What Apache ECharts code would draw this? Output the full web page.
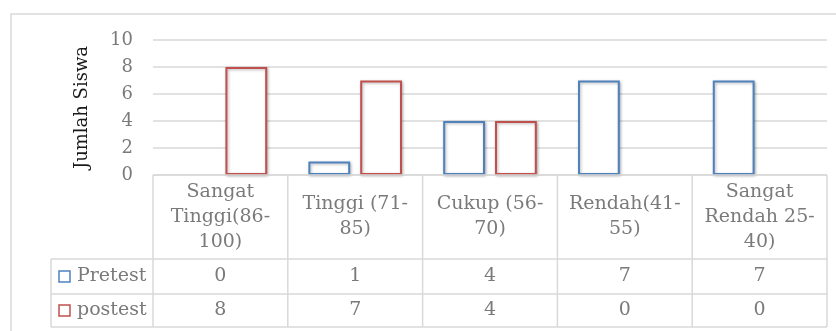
<!DOCTYPE html>
<html>
<head>
<meta charset="utf-8">
<script src="https://cdn.jsdelivr.net/npm/echarts/dist/echarts.min.js"></script>
<style>
  html, body { margin: 0; padding: 0; background: #ffffff; }
  #chart { width: 836px; height: 331px; }
</style>
</head>
<body>
<div id="chart"></div>
<script>
// Score bands (category labels, wrapped the way they appear in the table header)
const categories = ['Sangat\nTinggi(86-\n100)', 'Tinggi (71-\n85)', 'Cukup (56-\n70)', 'Rendah(41-\n55)', 'Sangat\nRendah 25-\n40)'];
// Number of students per band
const pretest = [0, 1, 4, 7, 7];
const postest = [8, 7, 4, 0, 0];
const seriesNames = ['Pretest', 'postest'];
const yAxisTitle = 'Jumlah Siswa';

const BLUE = '#4F81BD';
const RED = '#C0504D';
const GRID_COLOR = '#d9d9d9';
const TEXT_COLOR = '#7a7a7a';
const SERIF = '"DejaVu Serif", serif';

// Data table layout below the plot
const HEADER_H = 84;
const ROW1_H = 35;
const ROW2_H = 33;
const LEGEND_LEFT = 51;

const chart = echarts.init(document.getElementById('chart'), null, { renderer: 'canvas' });

function barData(values) {
  return values.map(v => v === 0
    ? { value: v, itemStyle: { borderWidth: 0, shadowBlur: 0, shadowColor: 'transparent' } }
    : v);
}

function barSeries(name, values, color) {
  return {
    name: name,
    type: 'bar',
    data: barData(values),
    barWidth: '31%',
    barGap: '24%',
    itemStyle: {
      color: '#ffffff',
      borderColor: color,
      borderWidth: 2,
      shadowColor: 'rgba(0,0,0,0.3)',
      shadowBlur: 3,
      shadowOffsetX: 1,
      shadowOffsetY: 1
    },
    emphasis: { disabled: true }
  };
}

chart.setOption({
  animation: false,
  backgroundColor: '#ffffff',
  grid: { left: 153, right: 9, top: 40, bottom: 156 },
  xAxis: {
    type: 'category',
    data: categories,
    axisLine: { show: false },
    axisTick: { show: false },
    axisLabel: { show: false }
  },
  yAxis: {
    type: 'value',
    min: 0,
    max: 10,
    interval: 2,
    name: yAxisTitle,
    nameLocation: 'middle',
    nameRotate: 90,
    nameGap: 62,
    nameTextStyle: { color: '#1a1a1a', fontFamily: SERIF, fontSize: 18 },
    axisLine: { show: false },
    axisTick: { show: false },
    axisLabel: { color: TEXT_COLOR, fontFamily: SERIF, fontSize: 18, margin: 20 },
    splitLine: { lineStyle: { color: GRID_COLOR, width: 1.5 } }
  },
  series: [
    barSeries(seriesNames[0], pretest, BLUE),
    barSeries(seriesNames[1], postest, RED)
  ]
});

// Build the data table from the axis geometry
function buildTable() {
  const c0 = chart.convertToPixel({ xAxisIndex: 0 }, 0);
  const c1 = chart.convertToPixel({ xAxisIndex: 0 }, 1);
  const band = c1 - c0;
  const left = c0 - band / 2;
  const right = left + band * categories.length;
  const top = chart.convertToPixel({ yAxisIndex: 0 }, 0);
  const yRow1 = top + HEADER_H;
  const yRow2 = yRow1 + ROW1_H;
  const yEnd = yRow2 + ROW2_H;

  const lineStyle = { stroke: GRID_COLOR, lineWidth: 1.5 };
  const els = [];
  const hline = (x1, x2, y) => els.push({ type: 'line', silent: true, z: 10, shape: { x1, y1: y, x2, y2: y }, style: lineStyle });
  const vline = (x, y1, y2) => els.push({ type: 'line', silent: true, z: 10, shape: { x1: x, y1, x2: x, y2 }, style: lineStyle });
  const text = (str, x, y, align) => els.push({
    type: 'text', silent: true, z: 11, x, y,
    style: { text: str, fill: TEXT_COLOR, fontFamily: SERIF, fontSize: 19, lineHeight: 25, align: align || 'center', verticalAlign: 'middle' }
  });

  // Chart frame
  els.push({ type: 'rect', silent: true, z: 1, shape: { x: 11, y: 14, width: 840, height: 330 }, style: { fill: null, stroke: GRID_COLOR, lineWidth: 1.5 } });

  hline(left, right, top);
  hline(LEGEND_LEFT, right, yRow1);
  hline(LEGEND_LEFT, right, yRow2);
  hline(LEGEND_LEFT, right, yEnd);
  vline(LEGEND_LEFT, yRow1, yEnd);
  for (let i = 0; i <= categories.length; i++) {
    vline(left + band * i, top, yEnd);
  }

  categories.forEach((cat, i) => {
    const cx = left + band * (i + 0.5);
    text(cat, cx, top + HEADER_H / 2);
    text(String(pretest[i]), cx, yRow1 + ROW1_H / 2);
    text(String(postest[i]), cx, yRow2 + ROW2_H / 2);
  });

  // Legend keys in the row headers
  const rows = [[seriesNames[0], BLUE, yRow1 + ROW1_H / 2], [seriesNames[1], RED, yRow2 + ROW2_H / 2]];
  rows.forEach(([name, color, cy]) => {
    els.push({ type: 'rect', silent: true, z: 11, shape: { x: LEGEND_LEFT + 8, y: cy - 5.5, width: 11, height: 11 }, style: { fill: '#ffffff', stroke: color, lineWidth: 1.5 } });
    text(name, LEGEND_LEFT + 26, cy, 'left');
  });

  chart.setOption({ graphic: els });
}

buildTable();
</script>
</body>
</html>
